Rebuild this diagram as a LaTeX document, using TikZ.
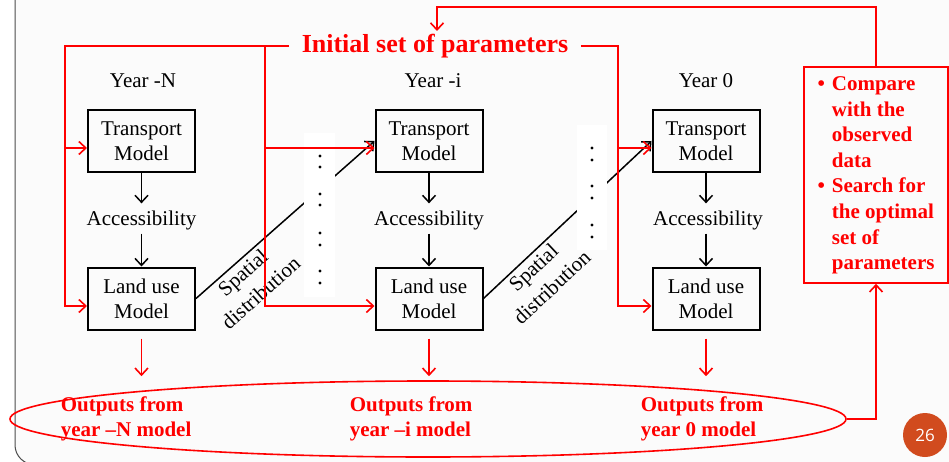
\documentclass[tikz,border=0pt]{standalone}
\usepackage{fontspec}
\setmainfont{Liberation Serif}
\newfontfamily\numfont{Open Sans}
\usetikzlibrary{arrows.meta, shapes.geometric}
\definecolor{slidebg}{gray}{0.985}
\definecolor{pagenum}{RGB}{209,75,30}
\newcommand{\mtext}{\fontsize{21}{25}\selectfont}
\newcommand{\rtext}{\fontsize{21}{25.6}\selectfont\bfseries}

\begin{document}
\begin{tikzpicture}[x=1pt, y=-1pt, >={Straight Barb[length=7pt,width=13pt]}, line width=1.5pt, font=\mtext,
  model/.style={rectangle, draw, line width=2pt, minimum width=107pt, minimum height=62pt, inner sep=0pt, align=center},
  redline/.style={red, line width=1.6pt},
  slanted/.style={sloped, below, align=center, font=\fontsize{21}{27}\selectfont},
  outtext/.style={red, font=\rtext, align=left, anchor=west, inner sep=0pt}]
\useasboundingbox (0,0) rectangle (949,462);
\fill[white] (0,0) rectangle (949,462);
\filldraw[fill=slidebg, draw=black!70, line width=1pt, rounded corners=19.5pt] (15,-30) rectangle (990,464.5);

% years
\node (yN) at (143,81) {Year -N};
\node (yI) at (433,81) {Year -i};
\node (y0) at (706,81) {Year 0};

% models
\node[model] at (141.5,141) (tN) {Transport\\Model};
\node at (141.5,220) (aN) {Accessibility};
\node[model] at (141.5,298.5) (lN) {Land use\\Model};
\node[model] at (429,141) (tI) {Transport\\Model};
\node at (429,220) (aI) {Accessibility};
\node[model] at (429,298.5) (lI) {Land use\\Model};
\node[model] at (706,141) (t0) {Transport\\Model};
\node at (708,220) (a0) {Accessibility};
\node[model] at (706,298.5) (l0) {Land use\\Model};

\draw[->, shorten >=3pt] (tN) -- (aN);
\draw[->] (aN) -- (lN);
\draw[->, shorten >=3pt] (tI) -- (aI);
\draw[->] (aI) -- (lI);
\draw[->, shorten >=3pt] (t0) -- (t0 |- a0.north);
\draw[->] (t0 |- a0.south) -- (l0);

% spatial distribution
\draw[->] (lN.east) -- (tI.west) node[slanted, pos=0.22] (sdN) {Spatial\\distribution};
\draw[->] (lI.east) -- (t0.west) node[slanted, pos=0.25] (sdI) {Spatial\\distribution};

% dots
\fill[white] (304,133) rectangle (335,297);
\fill[white] (577,125) rectangle (607,250);
\foreach \y in {156,167,194,205,233,245,271,283} \fill (320,\y) circle (1.6pt);
\foreach \y in {148,160,186,198,225,237} \fill (592,\y) circle (1.6pt);

% parameters
\node[red, font=\fontsize{26}{30}\selectfont\bfseries, inner xsep=12pt] at (435,46) (init) {Initial set of parameters};
\coordinate (busN) at (65,46);
\coordinate (busI) at (265,46);
\coordinate (bus0) at (618,46);
\coordinate (tNin) at ([yshift=-7pt]tN.west);
\coordinate (lNin) at ([yshift=-7.5pt]lN.west);
\coordinate (tIin) at ([yshift=-7pt]tI.west);
\coordinate (lIin) at ([yshift=-7.5pt]lI.west);
\coordinate (t0in) at ([yshift=-7pt]t0.west);
\coordinate (l0in) at ([yshift=-7.5pt]l0.west);
\draw[redline, ->] (init.west) -- (busN) |- (lNin);
\draw[redline, ->] (busN |- tNin) -- (tNin);
\draw[redline, ->] (busI) |- (lIin);
\draw[redline, ->] (busI |- tIin) -- (tIin);
\draw[redline, ->] (init.east) -- (bus0) |- (l0in);
\draw[redline, ->] (bus0 |- t0in) -- (t0in);

% comparison
\node[redline, draw, minimum width=144pt, minimum height=216pt, inner sep=0pt, font=\rtext] at (876,175) (cmp)
  {\begin{tabular}{@{}l@{\hspace{7pt}}l@{}}
   \textbullet & Compare\\ & with the\\ & observed\\ & data\\
   \textbullet & Search for\\ & the optimal\\ & set of\\ & parameters
   \end{tabular}};
\coordinate (fbEnd) at (437,31);
\draw[redline, ->] (cmp.north) -- ++(0,-59) -| (fbEnd);

% outputs
\node[ellipse, draw=red, line width=1.6pt, minimum width=836pt, minimum height=76pt, inner sep=0pt] at (428,419) (outs) {};
\node[outtext] at (60,419) (oN) {Outputs from\\year –N model};
\node[outtext] at (349,419) (oI) {Outputs from\\year –i model};
\node[outtext] at (640,419) (o0) {Outputs from\\year 0 model};
\draw[redline, ->, shorten <=8pt, shorten >=4pt] (lN) -- (lN |- outs.north);
\draw[redline, ->, shorten <=8pt, shorten >=4pt] (lI) -- (lI |- outs.north);
\draw[redline, ->, shorten <=8pt, shorten >=4pt] (l0) -- (l0 |- outs.north);
\draw[redline, ->] (outs.east) -| (cmp.south);

% page number
\node[circle, fill=pagenum, minimum size=44pt, inner sep=0pt, text=white, font=\numfont\fontsize{17}{20}\selectfont] at (925,435) (pg) {26};
\end{tikzpicture}
\end{document}
